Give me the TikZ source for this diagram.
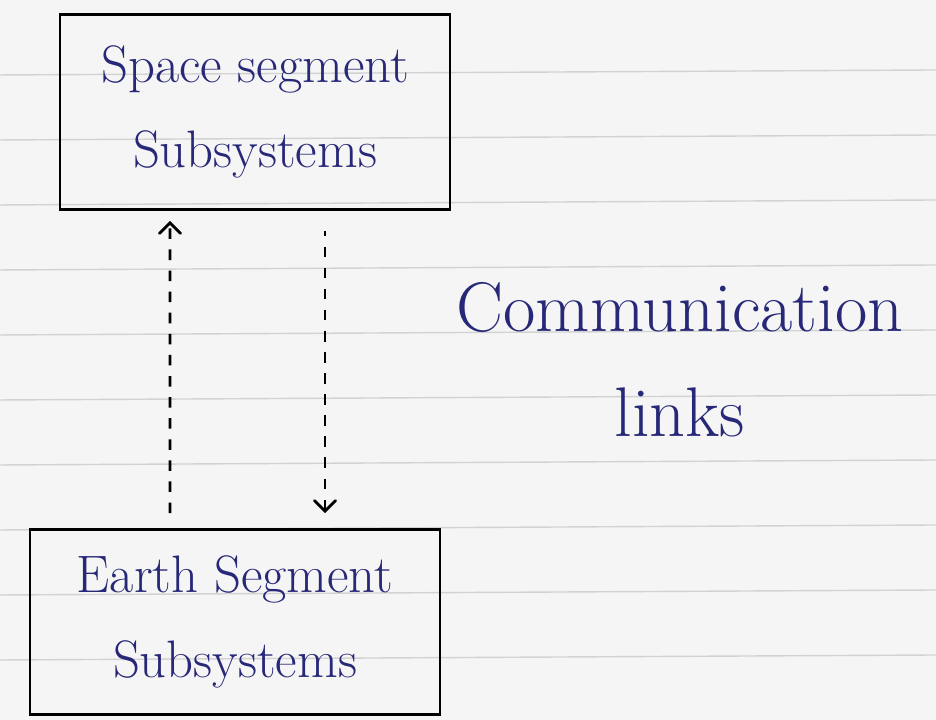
\documentclass[tikz,border=0pt]{standalone}
\usepackage{tikz}
\usetikzlibrary{positioning,calc,arrows}
\definecolor{ink}{RGB}{40,40,120}
\tikzstyle{block} = [draw, thick, rectangle, align=center, text=ink, font=\fontsize{15}{24}\selectfont]
\tikzstyle{arrow} = [thick,dashed,->,>=angle 90]
\tikzstyle{arrowrev} = [thick,dashed,<-,>=angle 90]

\begin{document}
\begin{tikzpicture}

    \fill[black!4] (0,0) rectangle (9.36,7.2);
    \useasboundingbox (0,0) rectangle (9.36,7.2);
    \foreach \y in {0.6,1.25,1.9,2.55,3.2,3.85,4.5,5.15,5.8,6.45}
        \draw[gray!35] (0,\y) -- (9.36,\y+0.05);

    \node[block, minimum width=3.9cm, minimum height=1.95cm] (space) at (2.55,6.08) {Space segment\\Subsystems};
    \node[block, minimum width=4.1cm, minimum height=1.85cm] (earth) at (2.35,0.98) {Earth Segment\\Subsystems};
    \node[text=ink, align=center, font=\fontsize{20}{30}\selectfont] (links) at (6.8,3.6) {Communication\\links};

    \draw[arrow]    ([xshift=-0.65cm,yshift=0.15cm]earth.north) -- ([xshift=-0.85cm,yshift=-0.1cm]space.south);
    \draw[arrowrev] ([xshift=0.9cm,yshift=0.15cm]earth.north) -- ([xshift=0.7cm,yshift=-0.2cm]space.south);

\end{tikzpicture}
\end{document}
